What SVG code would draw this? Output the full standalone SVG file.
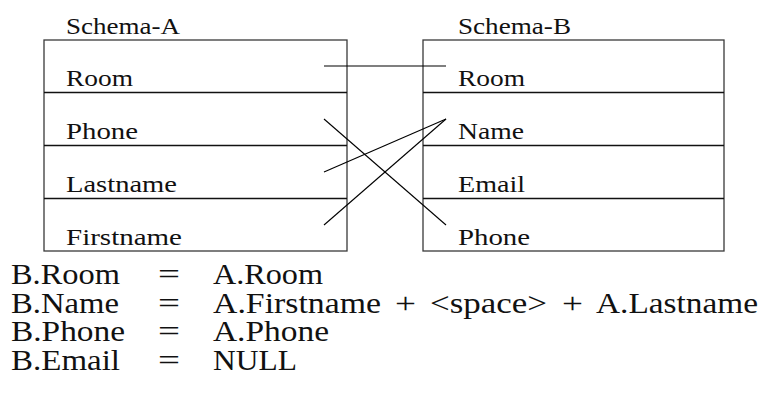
<svg xmlns="http://www.w3.org/2000/svg" width="762" height="399" viewBox="0 0 762 399">
  <style>
    .box { fill: none; stroke: #3a3a3a; stroke-width: 1.3; }
    .div { stroke: #111; stroke-width: 1.4; }
    text { font-family: "Liberation Serif", "DejaVu Serif", serif; fill: #111; }
    .lbl { font-size: 24px; }
    .eq { font-size: 29px; }
    .link { stroke: #000; stroke-width: 1.1; fill: none; }
  </style>

  <!-- Schema A table -->
  <g id="schema-a">
    <text class="lbl" x="66" y="34" textLength="114" lengthAdjust="spacingAndGlyphs">Schema-A</text>
    <rect class="box" x="44" y="40" width="303" height="211"/>
    <line class="div" x1="44" y1="92.5" x2="347" y2="92.5"/>
    <line class="div" x1="44" y1="145.5" x2="347" y2="145.5"/>
    <line class="div" x1="44" y1="198.5" x2="347" y2="198.5"/>
    <text class="lbl" x="66" y="86" textLength="67" lengthAdjust="spacingAndGlyphs">Room</text>
    <text class="lbl" x="66" y="139" textLength="72" lengthAdjust="spacingAndGlyphs">Phone</text>
    <text class="lbl" x="66" y="192" textLength="111" lengthAdjust="spacingAndGlyphs">Lastname</text>
    <text class="lbl" x="66" y="245" textLength="116" lengthAdjust="spacingAndGlyphs">Firstname</text>
  </g>

  <!-- Schema B table -->
  <g id="schema-b">
    <text class="lbl" x="458" y="34" textLength="113" lengthAdjust="spacingAndGlyphs">Schema-B</text>
    <rect class="box" x="423" y="40" width="301" height="211"/>
    <line class="div" x1="423" y1="92.5" x2="724" y2="92.5"/>
    <line class="div" x1="423" y1="145.5" x2="724" y2="145.5"/>
    <line class="div" x1="423" y1="198.5" x2="724" y2="198.5"/>
    <text class="lbl" x="458" y="86" textLength="67" lengthAdjust="spacingAndGlyphs">Room</text>
    <text class="lbl" x="458" y="139" textLength="66" lengthAdjust="spacingAndGlyphs">Name</text>
    <text class="lbl" x="458" y="192" textLength="67" lengthAdjust="spacingAndGlyphs">Email</text>
    <text class="lbl" x="458" y="245" textLength="72" lengthAdjust="spacingAndGlyphs">Phone</text>
  </g>

  <!-- field correspondences -->
  <g id="connectors">
    <line class="link" x1="324" y1="66" x2="446" y2="66"/>
    <line class="link" x1="324" y1="119" x2="446" y2="225"/>
    <line class="link" x1="324" y1="172" x2="446" y2="119"/>
    <line class="link" x1="324" y1="225" x2="446" y2="119"/>
  </g>

  <!-- mapping equations -->
  <g id="equations">
    <text class="eq" x="11" y="284" textLength="109" lengthAdjust="spacingAndGlyphs">B.Room</text>
    <text class="eq" x="158" y="284" textLength="22" lengthAdjust="spacingAndGlyphs">=</text>
    <text class="eq" x="213" y="284" textLength="110" lengthAdjust="spacingAndGlyphs">A.Room</text>

    <text class="eq" x="11" y="312.5" textLength="108" lengthAdjust="spacingAndGlyphs">B.Name</text>
    <text class="eq" x="158" y="312.5" textLength="22" lengthAdjust="spacingAndGlyphs">=</text>
    <text class="eq" x="213" y="312.5" textLength="168" lengthAdjust="spacingAndGlyphs">A.Firstname</text>
    <text class="eq" x="395" y="312.5" textLength="21" lengthAdjust="spacingAndGlyphs">+</text>
    <text class="eq" x="430" y="312.5" textLength="117" lengthAdjust="spacingAndGlyphs">&lt;space&gt;</text>
    <text class="eq" x="562" y="312.5" textLength="21" lengthAdjust="spacingAndGlyphs">+</text>
    <text class="eq" x="596" y="312.5" textLength="162" lengthAdjust="spacingAndGlyphs">A.Lastname</text>

    <text class="eq" x="11" y="341" textLength="114" lengthAdjust="spacingAndGlyphs">B.Phone</text>
    <text class="eq" x="158" y="341" textLength="22" lengthAdjust="spacingAndGlyphs">=</text>
    <text class="eq" x="213" y="341" textLength="116" lengthAdjust="spacingAndGlyphs">A.Phone</text>

    <text class="eq" x="11" y="369.5" textLength="109" lengthAdjust="spacingAndGlyphs">B.Email</text>
    <text class="eq" x="158" y="369.5" textLength="22" lengthAdjust="spacingAndGlyphs">=</text>
    <text class="eq" x="213" y="369.5" textLength="84" lengthAdjust="spacingAndGlyphs">NULL</text>
  </g>
</svg>
